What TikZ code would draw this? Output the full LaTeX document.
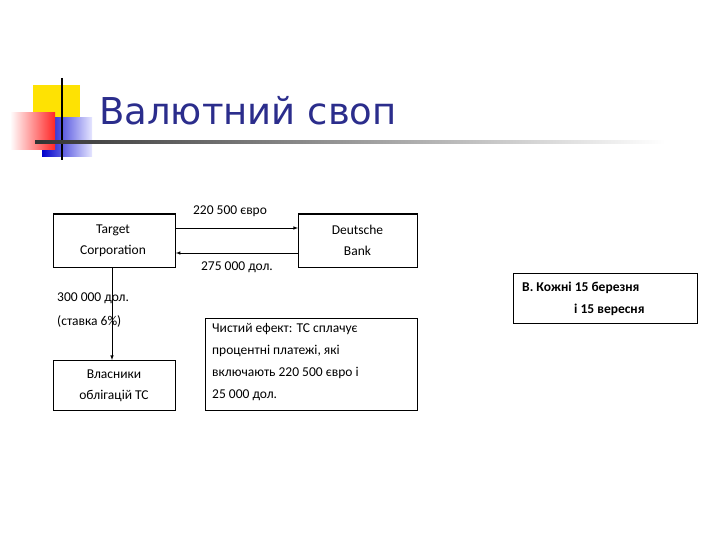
\documentclass[tikz,border=0pt]{standalone}
\usepackage{fontspec}
\setmainfont{Carlito}
\newfontfamily\titlefont{DejaVu Sans}
\definecolor{ttl}{RGB}{43,45,140}
\begin{document}
\begin{tikzpicture}[x=1pt,y=-1pt,
  bx/.style={draw,line width=0.8pt,align=center,anchor=north west,inner sep=0pt},
  lbl/.style={font=\fontsize{13.5}{15}\selectfont,inner sep=0pt},
  arr/.style={-latex,line width=0.6pt}]
\useasboundingbox (0,0) rectangle (720,540);
% decoration
\fill[yellow!85!orange] (33,85) rectangle (80,130);
\shade[left color=blue!80!black,right color=blue!10] (42,118) rectangle (92,157);
\shade[left color=white,right color=red!85] (10,113) rectangle (55,150);
\draw[line width=1.5pt] (62,78) -- (62,160);
\shade[left color=black!80,right color=white] (35,141) rectangle (665,143.5);
\node[anchor=west,text=ttl,font=\titlefont\fontsize{37}{40}\selectfont,inner sep=0pt] (title) at (99,111) {Валютний своп};
% boxes
\node[bx,minimum width=122pt,minimum height=53pt] (tc) at (53,214) {};
\node[lbl,align=center] at (113,240.5) {Target\\[6pt]Corporation};
\draw[line width=1.8pt] (tc.north west) -- (tc.north east);
\node[bx,minimum width=119pt,minimum height=53pt] (db) at (298,214) {};
\node[lbl,align=center] at (357.5,240.5) {Deutsche\\[6pt]Bank};
\draw[line width=1.8pt] (db.north west) -- (db.north east);
\node[bx,minimum width=122pt,minimum height=50pt] (vl) at (53,360) {};
\node[lbl,align=center] at (114,386) {Власники\\[6pt]облігацій TC};
\node[bx,minimum width=212pt,minimum height=92pt] (ne) at (205,318) {};
\node[lbl,align=left,anchor=north west] at (212,323) {Чистий ефект: TC сплачує\\[7pt]процентні платежі, які\\[7pt]включають 220 500 євро і\\[7pt]25 000 дол.};
\node[bx,minimum width=184pt,minimum height=50pt] (vv) at (513,273) {};
\node[lbl,align=left,anchor=north west,font=\bfseries\fontsize{13.5}{15}\selectfont] at (522,282) {В. Кожні 15 березня\\[7pt]\hspace{52pt}і 15 вересня};
% arrows
\draw[arr] (tc.east |- 0,228) -- (db.west |- 0,228);
\draw[arr] (db.west |- 0,253) -- (tc.east |- 0,253);
\draw[arr] (112,267) -- (vl.north -| 112,0);
\node[lbl] (l1) at (230,211) {220 500 євро};
\node[lbl] (l2) at (237,267) {275 000 дол.};
\node[lbl,align=left,anchor=north west] (l3) at (57,293) {300 000 дол.\\[9pt](ставка 6\%)};
\end{tikzpicture}
\end{document}
